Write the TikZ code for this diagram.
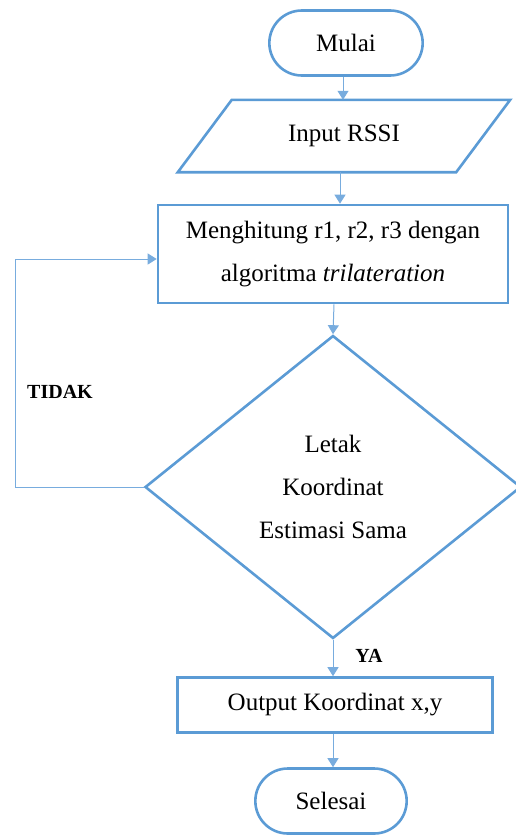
\documentclass[tikz,border=0pt]{standalone}
\usepackage{fontspec}
\setmainfont{Liberation Serif}
\usetikzlibrary{shapes.geometric,shapes.misc,arrows.meta}
\definecolor{boxblue}{RGB}{91,155,213}
\definecolor{lineblue}{RGB}{120,172,222}
\begin{document}
\begin{tikzpicture}[x=1pt,y=-1pt,
    every node/.style={font=\fontsize{25}{30}\selectfont, text=black},
    edge box/.style={draw=boxblue, line width=2.6pt},
    terminal/.style={edge box, rounded rectangle, minimum width=160pt, minimum height=65pt},
    procbox/.style={edge box, rectangle, align=center, inner sep=0pt},
    decbox/.style={edge box, diamond, align=center, inner sep=0pt, minimum width=376pt, minimum height=303pt},
    flow/.style={draw=lineblue, line width=1pt, -{Triangle[length=9pt,width=11pt]}},
    answer/.style={font=\fontsize{20}{24}\selectfont\bfseries}]
    \useasboundingbox (0,0) rectangle (516,835);
    % blocks of the flowchart
    \node [terminal] (mulai) at (346,43) {Mulai};
    \node [minimum width=332pt, minimum height=72pt, inner sep=0pt] (input) at (344,136) {Input RSSI};
    \draw [edge box, line join=miter] ([xshift=54pt]input.north west) -- (input.north east)
        -- ([xshift=-54pt]input.south east) -- (input.south west) -- cycle; % parallelogram
    \node [procbox, minimum width=350pt, minimum height=98pt, font=\fontsize{25}{43}\selectfont] (hitung) at (333,254)
        {Menghitung r1, r2, r3 dengan\\algoritma \textit{trilateration}};
    \node [decbox, font=\fontsize{25}{43}\selectfont] (cek) at (333,487)
        {Letak\\Koordinat\\Estimasi Sama};
    \node [procbox, minimum width=315pt, minimum height=55pt] (output) at (335,705) {Output Koordinat x,y};
    \node [terminal, minimum width=158pt] (selesai) at (331,801) {Selesai};
    % connectors
    \draw [flow] (mulai.south -| 343,0) -- (input.north -| 343,0);
    \draw [flow] (input.south -| 340,0) -- (hitung.north -| 340,0);
    \draw [flow] (hitung.south -| 334,0) -- (cek.north);
    \draw [flow] (cek.south) -- (output.north -| cek.south);
    \draw [flow] (output.south -| 333,0) -- (selesai.north -| 333,0);
    % loop back when estimate differs
    \coordinate (balik) at (15,259);
    \draw [flow] (cek.west) -| (balik) -- (hitung.west |- balik);
    \node [answer] (tidak) at (60,392) {TIDAK};
    \node [answer] (ya) at (369,656) {YA};
\end{tikzpicture}
\end{document}
